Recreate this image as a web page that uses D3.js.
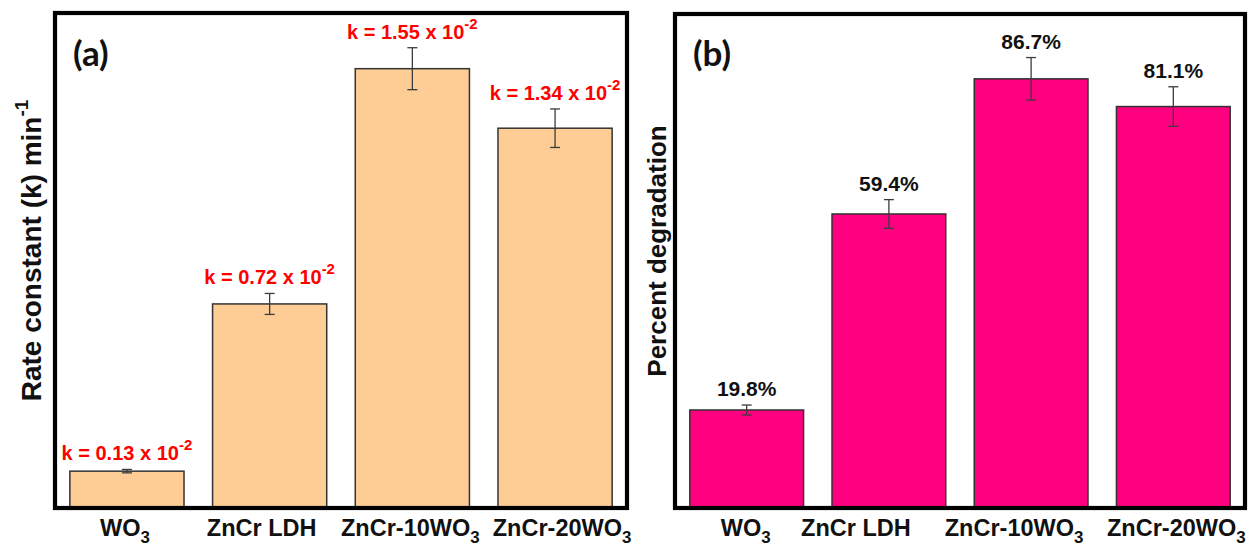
<!DOCTYPE html>
<html>
<head>
<meta charset="utf-8">
<script src="https://cdn.jsdelivr.net/npm/d3@7"></script>
<style>
  html, body { margin: 0; padding: 0; background: #fff; }
  svg { display: block; }
</style>
</head>
<body>
<svg id="chart" width="1252" height="546"></svg>
<script>
// Samples compared in both panels
const categories = ["WO3", "ZnCr LDH", "ZnCr-10WO3", "ZnCr-20WO3"];

// (a) pseudo-first-order rate constants, in units of 10^-2 min^-1
const rateConstant = [0.13, 0.72, 1.55, 1.34];
const rateError = [0.006, 0.037, 0.074, 0.068];

// (b) percent degradation
const degradation = [19.8, 59.4, 86.7, 81.1];
const degradationError = [1.0, 2.9, 4.3, 4.0];

// Small horizontal nudges for the category captions under each panel
const captionNudgeA = [-2, -8, -2, 7];
const captionNudgeB = [-1, -33, -17, 3];

const FONT = "'Liberation Sans', Arial, Helvetica, sans-serif";
const svg = d3.select("#chart");
svg.append("rect").attr("width", 1252).attr("height", 546).attr("fill", "#fff");

// Writes "WO3"-style names with the trailing 3 as a subscript
function chemText(sel, name, size) {
  const m = name.match(/^(.*WO)(3)$/);
  if (!m) { sel.text(name); return; }
  sel.append("tspan").text(m[1]);
  sel.append("tspan").attr("font-size", size * 0.72).attr("dy", size * 0.3).text(m[2]);
}

function panel(cfg) {
  const { x0, x1, y0, y1, values, errors, max, fill, letter, title, titleX, titleSize,
          valueLabel, valueSize, labelColor, nudge } = cfg;
  const g = svg.append("g");

  const x = d3.scaleBand().domain(categories)
    .range([x0 + 2, x1 - 2]).paddingInner(0.2).paddingOuter(0.09);
  const y = d3.scaleLinear().domain([0, max]).range([y1, y0 - 1]);

  const rows = categories.map((c, i) => ({ c, v: values[i], e: errors[i], i }));

  // bars
  g.selectAll("rect.bar").data(rows).join("rect")
    .attr("class", "bar")
    .attr("x", d => x(d.c))
    .attr("width", x.bandwidth())
    .attr("y", d => y(d.v))
    .attr("height", d => y(0) - y(d.v))
    .attr("fill", fill)
    .attr("stroke", "#333")
    .attr("stroke-width", 1.5);

  // error bars
  const eb = g.selectAll("g.err").data(rows).join("g").attr("class", "err")
    .attr("stroke", "#3c3c3c").attr("stroke-width", 1.3);
  eb.append("line")
    .attr("x1", d => x(d.c) + x.bandwidth() / 2).attr("x2", d => x(d.c) + x.bandwidth() / 2)
    .attr("y1", d => y(d.v + d.e)).attr("y2", d => y(d.v - d.e));
  eb.append("line")
    .attr("x1", d => x(d.c) + x.bandwidth() / 2 - 5).attr("x2", d => x(d.c) + x.bandwidth() / 2 + 5)
    .attr("y1", d => y(d.v + d.e)).attr("y2", d => y(d.v + d.e));
  eb.append("line")
    .attr("x1", d => x(d.c) + x.bandwidth() / 2 - 5).attr("x2", d => x(d.c) + x.bandwidth() / 2 + 5)
    .attr("y1", d => y(d.v - d.e)).attr("y2", d => y(d.v - d.e));

  // value labels above the error bars
  g.selectAll("text.val").data(rows).join("text")
    .attr("class", "val")
    .attr("x", d => x(d.c) + x.bandwidth() / 2)
    .attr("y", d => y(d.v + d.e) - 9)
    .attr("text-anchor", "middle")
    .attr("font-family", FONT).attr("font-weight", "bold")
    .attr("font-size", valueSize)
    .attr("fill", labelColor)
    .each(function (d) { valueLabel(d3.select(this), d.v); });

  // frame
  g.append("rect")
    .attr("x", x0).attr("y", y0).attr("width", x1 - x0).attr("height", y1 - y0)
    .attr("fill", "none").attr("stroke", "#000").attr("stroke-width", 4.2);

  // category captions
  g.selectAll("text.cat").data(rows).join("text")
    .attr("class", "cat")
    .attr("x", d => x(d.c) + x.bandwidth() / 2 + nudge[d.i])
    .attr("y", 536)
    .attr("text-anchor", "middle")
    .attr("font-family", FONT).attr("font-weight", "bold")
    .attr("font-size", 23.5).attr("fill", "#111")
    .each(function (d) { chemText(d3.select(this), d.c, 23.5); });

  // panel letter
  g.append("text")
    .attr("x", x0 + 18).attr("y", 66)
    .attr("font-family", "Lato, 'Open Sans', sans-serif").attr("font-weight", "bold")
    .attr("font-size", 35).attr("fill", "#111")
    .text(letter);

  // y-axis title
  const t = g.append("text")
    .attr("transform", `translate(${titleX},${(y0 + y1) / 2 - 10}) rotate(-90)`)
    .attr("text-anchor", "middle")
    .attr("font-family", FONT).attr("font-weight", "bold")
    .attr("font-size", titleSize).attr("fill", "#111");
  title(t);
}

panel({
  x0: 55, x1: 627, y0: 13, y1: 508,
  values: rateConstant, errors: rateError, max: 1.75,
  fill: "#FECC95", letter: "(a)", titleX: 41, titleSize: 28,
  labelColor: "#FF0000", nudge: captionNudgeA, valueSize: 20,
  valueLabel: (sel, v) => {
    sel.append("tspan").text(`k = ${v.toFixed(2)} x 10`);
    sel.append("tspan").attr("font-size", 15).attr("dy", -10).text("-2");
  },
  title: sel => {
    sel.append("tspan").text("Rate constant (k) min");
    sel.append("tspan").attr("font-size", 19).attr("dy", -13).text("-1");
  }
});

panel({
  x0: 675, x1: 1245, y0: 14, y1: 508,
  values: degradation, errors: degradationError, max: 100,
  fill: "#FF0080", letter: "(b)", titleX: 666, titleSize: 26,
  labelColor: "#111", nudge: captionNudgeB, valueSize: 21,
  valueLabel: (sel, v) => sel.text(`${v.toFixed(1)}%`),
  title: sel => sel.text("Percent degradation")
});
</script>
</body>
</html>
